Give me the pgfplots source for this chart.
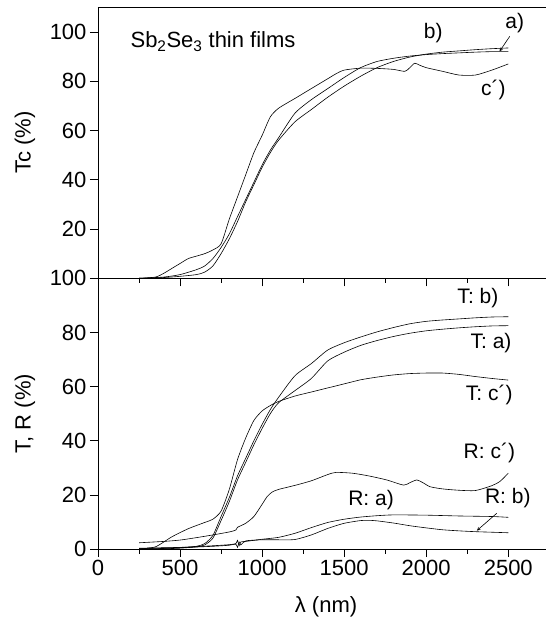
\documentclass[border=0pt]{standalone}
\usepackage{fontspec}
\setmainfont{Liberation Sans}
\usepackage{pgfplots}
\pgfplotsset{compat=1.18}

\newcommand\tfs{\fontsize{22}{26}\selectfont}
\newcommand\lfs{\fontsize{21}{24}\selectfont}

\pgfplotsset{
  panel/.style={
    scale only axis, width=448pt,
    xmin=0, xmax=2730,
    xtick={0,500,...,2500}, minor x tick num=1,
    ytick pos=left, xtick pos=bottom,
    tick align=outside,
    major tick length=8pt, minor tick length=4.5pt,
    tick style={black, line width=0.7pt},
    axis line style={black, line width=0.8pt},
    /pgf/number format/assume math mode=true,
    /pgf/number format/1000 sep={},
    tick label style={font=\tfs},
    label style={font=\tfs},
    cycle list={{black}},
    every axis plot post/.append style={black, line width=0.6pt, mark=none, smooth, tension=0.4},
  },
}

\begin{document}
\begin{tikzpicture}
% bottom panel: T and R
\begin{axis}[panel,
  at={(0,0)}, anchor=south west,
  height=270.7pt,
  axis x line*=bottom, axis y line*=left,
  ymin=0, ymax=100, ytick={0,20,...,100},
  xlabel={λ (nm)}, ylabel={T, R (\%)},
  xlabel style={at={(axis description cs:0.509,-0.213)}, anchor=center},
  ylabel style={at={(axis description cs:-0.163,0.5)}, anchor=center},
]
% T: b)
\addplot coordinates {(250,0) (400,0.2) (500,0.5) (600,1) (650,2) (700,5) (750,12) (800,19) (850,27) (900,33.5) (950,40) (1000,46) (1050,51.5) (1100,56) (1200,64) (1300,68.5) (1400,73.5) (1500,76.2) (1600,78.3) (1700,80.2) (1800,81.8) (1900,83.2) (2000,84.1) (2100,84.6) (2200,85) (2300,85.4) (2400,85.7) (2500,85.8)};
% T: a)
\addplot coordinates {(250,0) (400,0.1) (500,0.3) (600,0.8) (650,1.5) (700,4) (750,10.5) (800,17.5) (850,25.5) (900,32) (950,38.5) (1000,44.5) (1050,50) (1100,54) (1200,58.5) (1300,63) (1400,69.5) (1500,72.7) (1600,75.2) (1700,77) (1800,78.5) (1900,79.7) (2000,80.6) (2100,81.2) (2200,81.7) (2300,82.1) (2400,82.4) (2500,82.5)};
% T: c')
\addplot coordinates {(250,0) (350,0.8) (450,4.5) (550,7.5) (650,9.8) (700,11) (750,14) (800,22) (850,33) (900,41) (950,47.5) (1000,51) (1050,53) (1100,54.5) (1200,56.5) (1300,58) (1400,59.5) (1500,61) (1600,62.5) (1700,63.5) (1800,64.3) (1900,64.8) (2000,65) (2100,65) (2200,64.5) (2300,63.7) (2400,63) (2500,62.4)};
% R: c')
\addplot coordinates {(250,2.3) (400,2.8) (500,3.3) (600,4.2) (700,5.2) (800,6.3) (840,7) (850,8) (900,9.5) (950,12) (1000,16.5) (1030,19.3) (1060,21) (1100,22) (1200,23.5) (1300,25.2) (1400,27.5) (1450,28.3) (1550,28) (1650,27) (1760,25.5) (1862,23.6) (1900,24.5) (1943,25.5) (1980,24.5) (2024,23) (2100,22.2) (2200,21.7) (2300,21.6) (2400,23.4) (2450,25) (2500,28)};
% R: a)
\addplot coordinates {(250,0.3) (500,0.6) (700,1.2) (800,1.6) (840,2.0) (850,3.2) (860,1.2) (870,2.6) (900,2.8) (1000,3.6) (1100,4.3) (1200,5.8) (1300,7.9) (1400,9.8) (1500,11) (1600,11.8) (1700,12.3) (1800,12.6) (2000,12.5) (2200,12.2) (2400,12) (2500,11.7)};
% R: b)
\addplot coordinates {(250,0.2) (500,0.5) (700,1) (800,1.4) (840,1.8) (850,0.6) (860,2.6) (870,1.5) (900,3) (1000,3.4) (1100,3.4) (1200,3.5) (1300,5.2) (1400,7.6) (1500,9.5) (1600,10.5) (1650,10.6) (1700,10.4) (1800,9.6) (1900,8.6) (2000,7.8) (2100,7.1) (2200,6.7) (2300,6.4) (2400,6.2) (2500,6)};
\node[font=\lfs] at (axis cs:2315,92.6) {T: b)};
\node[font=\lfs] at (axis cs:2395,76) {T: a)};
\node[font=\lfs] at (axis cs:2384,56.9) {T: c´)};
\node[font=\lfs] at (axis cs:2385,35.4) {R: c´)};
\node[font=\lfs] at (axis cs:1664,18.1) {R: a)};
\node[font=\lfs] at (axis cs:2497,18.7) {R: b)};
\draw[-stealth, line width=0.6pt] (axis cs:2430,13.2) -- (axis cs:2309,6.8);
\end{axis}

% top panel: Tc
\begin{axis}[panel,
  at={(0,270.7pt)}, anchor=south west,
  height=271pt,
  axis x line*=box, axis y line*=left,
  xtick pos=bottom,
  xticklabels={},
  ymin=0, ymax=110, ytick={20,40,...,100},
  ylabel={Tc (\%)},
  ylabel style={at={(axis description cs:-0.163,0.5)}, anchor=center},
]
% a)
\addplot coordinates {(250,0) (400,0.3) (500,0.8) (600,1.5) (650,2.5) (700,5) (750,10) (800,16) (850,23) (900,31) (950,38) (1000,45) (1050,51) (1100,56) (1200,63.5) (1300,68.5) (1400,73.5) (1500,78) (1600,82) (1700,85.5) (1800,88) (1900,89.8) (2000,91) (2100,91.8) (2200,92.3) (2300,92.8) (2400,93.2) (2500,93.5)};
% b)
\addplot coordinates {(250,0) (400,0.5) (500,1.5) (600,3.5) (650,5) (700,8) (750,12.5) (800,18) (850,25) (900,32) (950,39) (1000,46) (1050,52) (1100,57) (1200,67) (1300,72.5) (1400,77) (1500,81.5) (1600,85.5) (1700,88) (1800,89.3) (1900,90.2) (2000,90.8) (2100,91.2) (2200,91.5) (2300,91.8) (2400,92) (2500,92)};
% c')
\addplot coordinates {(250,0) (350,0.5) (400,2) (450,4) (500,6) (550,8) (600,9) (650,10) (700,11.5) (750,14) (800,24) (850,33) (900,42) (950,51) (1000,58) (1050,65.5) (1100,69) (1200,73) (1300,77) (1400,81) (1450,83) (1500,84.5) (1600,85.3) (1700,85.2) (1800,84.8) (1870,84) (1900,85.5) (1930,87.3) (1960,86.5) (2000,85.5) (2100,84) (2200,82.5) (2300,82.5) (2400,84.5) (2500,87)};
\node[font=\tfs, anchor=west] at (axis cs:177,96) {Sb\textsubscript{2}Se\textsubscript{3} thin films};
\node[font=\lfs] at (axis cs:2043,99.7) {b)};
\node[font=\lfs] at (axis cs:2540,103.8) {a)};
\node[font=\lfs] at (axis cs:2409,76.6) {c´)};
\draw[-stealth, line width=0.6pt] (axis cs:2509,98.2) -- (axis cs:2447,92.1);
\end{axis}
\path (-98pt,-74pt) rectangle (448pt,549pt);
\end{tikzpicture}
\end{document}
